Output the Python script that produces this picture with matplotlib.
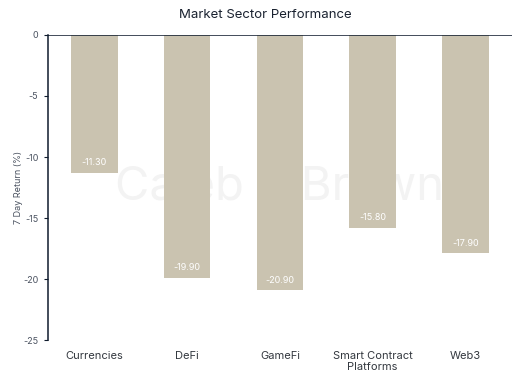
import matplotlib.pyplot as plt

plt.rcParams['font.family'] = ['Inter', 'DejaVu Sans']

setores = ['Currencies', 'DeFi', 'GameFi', 'Smart Contract\nPlatforms', 'Web3']
retornos = [-11.30, -19.90, -20.90, -15.80, -17.90]
yticks = [0, -5, -10, -15, -20, -25]

fig = plt.figure(figsize=(5.3, 3.8), dpi=100)
ax = fig.add_axes([0.0906, 0.105, 0.875, 0.803])

x = range(len(setores))
barras = ax.bar(x, retornos, width=0.5, color='#cac3b0', zorder=2)

# marca d'agua
ax.text(0.5, 0.5, 'Caleb & Brown', transform=ax.transAxes, ha='center', va='center',
        fontsize=34, color='#f3f3f3', zorder=1)

for xi, v in zip(x, retornos):
    ax.text(xi, v + 0.45, f'{v:.2f}', ha='center', va='bottom', fontsize=6.5,
            color='white', zorder=3)

ax.axhline(0, color='#0f1b2d', lw=1.1, zorder=3)
ax.set_xlim(-0.5, 4.5)
ax.set_ylim(-25, 0)
ax.set_yticks(yticks)
ax.set_yticklabels([str(t) for t in yticks])
ax.set_xticks(list(x))
ax.set_xticklabels(setores, fontsize=8, color='#33383f', linespacing=1.1)
ax.tick_params(axis='x', length=0, pad=8)
ax.tick_params(axis='y', length=3, width=0.8, color='#0f1b2d', labelsize=6.5,
               labelcolor='#4a5260', pad=4)

for lado in ['top', 'right', 'bottom']:
    ax.spines[lado].set_visible(False)
ax.spines['left'].set_color('#0f1b2d')
ax.spines['left'].set_linewidth(1.1)

ax.set_ylabel('7 Day Return (%)', fontsize=6.5, color='#4a5260', labelpad=0)
fig.suptitle('Market Sector Performance', y=0.975, fontsize=9.5, color='#1a2230')

plt.savefig('out.png', dpi=100)
